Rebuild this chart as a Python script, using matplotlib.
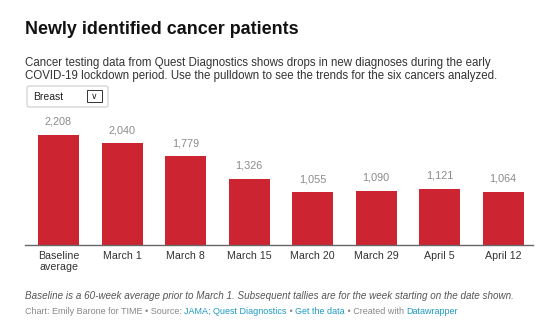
import matplotlib.pyplot as plt
from matplotlib.patches import FancyBboxPatch

plt.rcParams['font.family'] = ['Liberation Sans', 'DejaVu Sans']

# data
categories = ["Baseline\naverage", "March 1", "March 8", "March 15",
              "March 20", "March 29", "April 5", "April 12"]
values = [2208, 2040, 1779, 1326, 1055, 1090, 1121, 1064]

W, H = 547, 326
fig = plt.figure(figsize=(W/100, H/100), dpi=100)
fig.patch.set_facecolor("white")

# axes placed in pixel terms
ax = fig.add_axes([25/W, 1-245/H, 508/W, 133/H])
x = range(len(values))
ax.bar(x, values, width=0.646, color="#cc2531", zorder=2)
for i, v in enumerate(values):
    ax.annotate(f"{v:,}", (i, v), xytext=(0, 9.5), textcoords="offset points",
                ha="center", va="center", fontsize=7.8, color="#8a8a8a")

ax.set_xlim(-0.528, 7.472)
ax.set_ylim(0, 2670)
ax.set_yticks([])
ax.set_xticks(list(x))
ax.set_xticklabels(categories, fontsize=7.7, color="#333333", linespacing=1.1)
ax.tick_params(axis="x", length=0, pad=4.5)
for s in ["top", "right", "left"]:
    ax.spines[s].set_visible(False)
ax.spines["bottom"].set_color("#666666")
ax.spines["bottom"].set_linewidth(1)

# title and subtitle
fig.text(25/W, 1-30/H, "Newly identified cancer patients", fontsize=12.9, fontweight="bold",
         color="#111111", va="center")
fig.text(25/W, 1-63/H, "Cancer testing data from Quest Diagnostics shows drops in new diagnoses during the early",
         fontsize=8.3, color="#333333", va="center")
fig.text(25/W, 1-76/H, "COVID-19 lockdown period. Use the pulldown to see the trends for the six cancers analyzed.",
         fontsize=8.3, color="#333333", va="center")

# dropdown
box = FancyBboxPatch((27/W, 1-107/H), 81/W, 21/H, boxstyle="round,pad=0,rounding_size=0.005",
                     transform=fig.transFigure, facecolor="white", edgecolor="#cccccc", linewidth=0.8)
fig.patches.append(box)
fig.text(33/W, 1-96.5/H, "Breast", fontsize=7.5, color="#222222", va="center")
arrow_box = FancyBboxPatch((87/W, 1-102/H), 15/W, 12/H, boxstyle="square,pad=0",
                           transform=fig.transFigure, facecolor="white", edgecolor="#333333", linewidth=0.7)
fig.patches.append(arrow_box)
fig.text(94.5/W, 1-96.5/H, "\u2228", fontsize=6.5, color="#222222", va="center", ha="center",
         family="DejaVu Sans")

# footer
fig.text(25/W, 1-296/H, "Baseline is a 60-week average prior to March 1. Subsequent tallies are for the week starting on the date shown.",
         fontsize=7.1, color="#555555", style="italic", va="center")
parts = [("Chart: Emily Barone for TIME \u2022 Source: ", "#888888"),
         ("JAMA; Quest Diagnostics", "#1d9ac5"),
         (" \u2022 ", "#888888"),
         ("Get the data", "#1d9ac5"),
         (" \u2022 Created with ", "#888888"),
         ("Datawrapper", "#1d9ac5")]
fig.canvas.draw()
r = fig.canvas.get_renderer()
xpos = 25
for txt, col in parts:
    t = fig.text(xpos/W, 1-311/H, txt, fontsize=6.5, color=col, va="center")
    bb = t.get_window_extent(renderer=r)
    xpos += bb.width

fig.savefig("out.png", dpi=100)
